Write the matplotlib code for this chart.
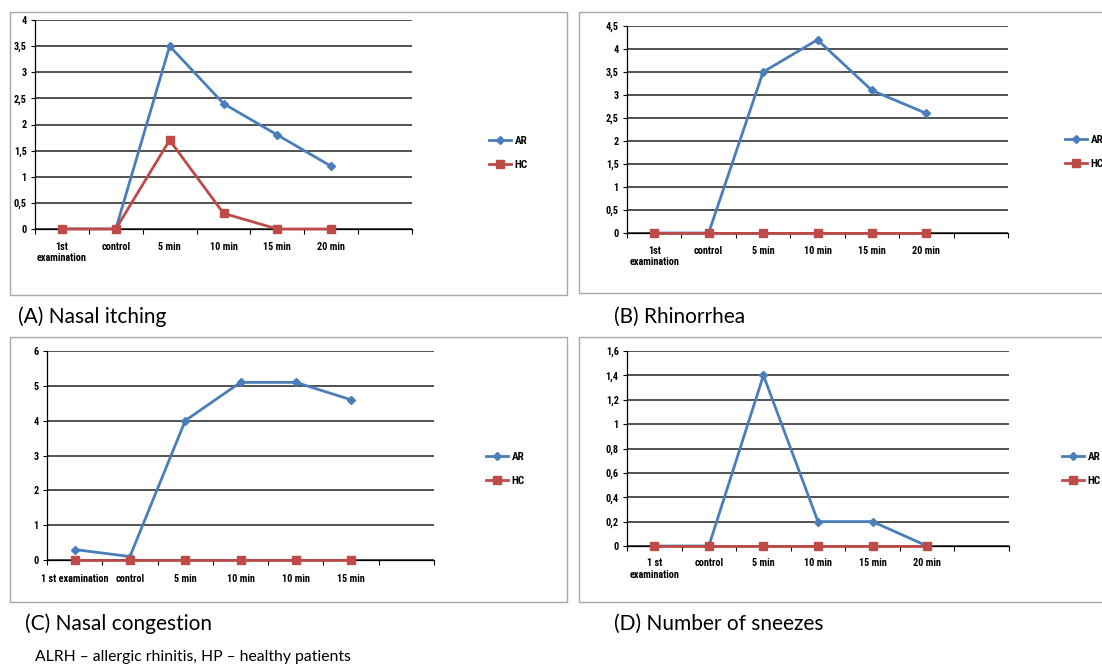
import matplotlib
matplotlib.use("Agg")
import matplotlib.pyplot as plt
from matplotlib.patches import Rectangle
from matplotlib.ticker import FixedLocator, FuncFormatter

# data
labels_a = ["1st\nexamination", "control", "5 min", "10 min", "15 min", "20 min"]
labels_b = ["1st\nexamination", "control", "5 min", "10 min", "15 min", "20 min"]
labels_c = ["1 st examination", "control", "5 min", "10 min", "10 min", "15 min"]
labels_d = ["1 st\nexamination", "control", "5 min", "10 min", "15 min", "20 min"]

ar_a = [0, 0, 3.5, 2.4, 1.8, 1.2]
hc_a = [0, 0, 1.7, 0.3, 0, 0]
ar_b = [0, 0, 3.5, 4.2, 3.1, 2.6]
hc_b = [0, 0, 0, 0, 0, 0]
ar_c = [0.3, 0.1, 4.0, 5.1, 5.1, 4.6]
hc_c = [0, 0, 0, 0, 0, 0]
ar_d = [0, 0, 1.4, 0.2, 0.2, 0]
hc_d = [0, 0, 0, 0, 0, 0]

yticks_a = [0, 0.5, 1, 1.5, 2, 2.5, 3, 3.5, 4]
yticks_b = [0, 0.5, 1, 1.5, 2, 2.5, 3, 3.5, 4, 4.5]
yticks_c = [0, 1, 2, 3, 4, 5, 6]
yticks_d = [0, 0.2, 0.4, 0.6, 0.8, 1, 1.2, 1.4, 1.6]

captions = ["(A) Nasal itching", "(B) Rhinorrhea", "(C) Nasal congestion", "(D) Number of sneezes"]
footer = "ALRH \u2013 allergic rhinitis, HP \u2013 healthy patients"

W, H = 1102, 666
BLUE = "#4a7ebb"
RED = "#be4b48"
tick_font = ["Roboto Condensed", "Roboto", "DejaVu Sans"]

fig = plt.figure(figsize=(W / 100, H / 100), dpi=100)


def rect(l, t, r, b):
    return [l / W, 1 - b / H, (r - l) / W, (b - t) / H]


def comma(v, pos):
    s = ("%.1f" % v).rstrip("0").rstrip(".")
    return s.replace(".", ",")


# grey frames round each chart
for l, t, r, b in [(10, 12, 567, 295), (579, 12, 1120, 293), (10, 337, 567, 602), (579, 337, 1120, 602)]:
    fig.patches.append(Rectangle((l / W, 1 - b / H), (r - l) / W, (b - t) / H,
                                 transform=fig.transFigure, fill=False,
                                 edgecolor="#a8a8a8", lw=1.0))

panels = [
    (rect(35, 20, 412, 229), labels_a, ar_a, hc_a, yticks_a, (489, 153), 9),
    (rect(627, 26, 1008, 233), labels_b, ar_b, hc_b, yticks_b, (1065, 152), 9),
    (rect(47, 351, 434, 560), labels_c, ar_c, hc_c, yticks_c, (486, 469), 10),
    (rect(627, 351, 1009, 546), labels_d, ar_d, hc_d, yticks_d, (1062, 469), 9),
]

for box, labels, ar, hc, yt, leg, xpad in panels:
    ax = fig.add_axes(box)
    x = list(range(len(labels)))
    ax.plot(x, ar, color=BLUE, lw=2.0, marker="D", ms=4.5, label="AR", zorder=3)
    ax.plot(x, hc, color=RED, lw=2.0, marker="s", ms=5.5, label="HC", zorder=4, clip_on=False)
    ax.set_xlim(-0.5, 6.5)
    ax.set_ylim(yt[0], yt[-1])
    ax.set_yticks(yt)
    ax.yaxis.set_major_formatter(FuncFormatter(comma))
    ax.set_xticks(x)
    ax.set_xticklabels(labels)
    ax.xaxis.set_minor_locator(FixedLocator([i - 0.5 for i in range(8)]))
    ax.tick_params(axis="x", which="major", length=0, pad=xpad)
    ax.tick_params(axis="x", which="minor", length=3.5, width=0.8, direction="out")
    ax.tick_params(axis="y", length=3, width=0.8, pad=3)
    for lab in ax.get_xticklabels() + ax.get_yticklabels():
        lab.set_family(tick_font)
        lab.set_fontweight("bold")
        lab.set_fontsize(7.4)
    ax.grid(axis="y", color="#333333", lw=1.2)
    ax.set_axisbelow(True)
    for s in ["top", "right"]:
        ax.spines[s].set_visible(False)
    ax.spines["left"].set_linewidth(0.9)
    ax.spines["bottom"].set_linewidth(0.9)
    ax.legend(loc="center left", bbox_to_anchor=(leg[0] / W, 1 - leg[1] / H),
              bbox_transform=fig.transFigure, frameon=False, numpoints=1,
              handlelength=2.0, handletextpad=0.3, labelspacing=1.3,
              borderaxespad=0, borderpad=0,
              prop={"family": tick_font, "weight": "bold", "size": 8})

cap_font = ["Lato", "DejaVu Sans"]
fig.text(18 / W, 1 - 317 / H, captions[0], family=cap_font, fontsize=15, va="center")
fig.text(614 / W, 1 - 317 / H, captions[1], family=cap_font, fontsize=15, va="center")
fig.text(25 / W, 1 - 624 / H, captions[2], family=cap_font, fontsize=15, va="center")
fig.text(614 / W, 1 - 624 / H, captions[3], family=cap_font, fontsize=15, va="center")
fig.text(35 / W, 1 - 657 / H, footer, family=cap_font, fontsize=11.3, va="center")

fig.savefig("out.png", dpi=100)
